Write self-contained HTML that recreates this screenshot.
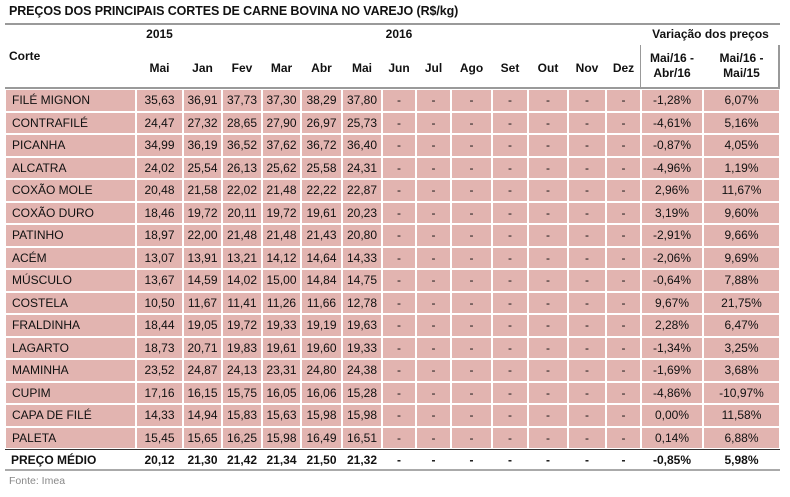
<!DOCTYPE html>
<html><head><meta charset="utf-8"><style>
body{margin:0;width:790px;height:497px;background:#fff;font-family:"Liberation Sans",Arial,sans-serif;position:relative;overflow:hidden;color:#111}
.t{position:absolute;left:9px;top:4px;font-size:12.5px;font-weight:bold;letter-spacing:-0.1px}
.hl{position:absolute;left:5px;width:775px;background:#9a9a9a}
.h{position:absolute;font-size:12px;font-weight:bold;text-align:center}
table{position:absolute;left:5px;top:89px;border-collapse:separate;border-spacing:0;table-layout:fixed;width:775px;font-size:12px}
td{height:22.5px;padding:0;box-sizing:border-box;background:#e2b4b0;border:1px solid #fff;text-align:center;white-space:nowrap}
td:first-child{text-align:left;padding-left:6px}
tr.m td{background:#fff;font-weight:bold;border:none;border-top:1.5px solid #333;border-bottom:2px solid #aaa;height:22px}
.f{position:absolute;left:9px;top:475px;font-size:10.5px;color:#888}
</style></head><body>
<div class="t">PREÇOS DOS PRINCIPAIS CORTES DE CARNE BOVINA NO VAREJO (R$/kg)</div>
<div class="hl" style="top:23px;height:2px"></div>
<div class="h" style="left:136px;width:47px;top:27px">2015</div>
<div class="h" style="left:382px;width:34px;top:27px">2016</div>
<div class="h" style="left:641px;width:139px;top:27px">Variação dos preços</div>
<div class="h" style="left:9px;top:49px">Corte</div>
<div style="position:absolute;left:640px;top:45px;width:1px;height:43px;background:#999"></div>
<div style="position:absolute;left:778px;top:45px;width:2px;height:43px;background:#999"></div>
<div class="h" style="left:136px;width:47px;top:61px">Mai</div>
<div class="h" style="left:183px;width:39px;top:61px">Jan</div>
<div class="h" style="left:222px;width:40px;top:61px">Fev</div>
<div class="h" style="left:262px;width:39px;top:61px">Mar</div>
<div class="h" style="left:301px;width:41px;top:61px">Abr</div>
<div class="h" style="left:342px;width:40px;top:61px">Mai</div>
<div class="h" style="left:382px;width:34px;top:61px">Jun</div>
<div class="h" style="left:416px;width:35px;top:61px">Jul</div>
<div class="h" style="left:451px;width:41px;top:61px">Ago</div>
<div class="h" style="left:492px;width:36px;top:61px">Set</div>
<div class="h" style="left:528px;width:40px;top:61px">Out</div>
<div class="h" style="left:568px;width:38px;top:61px">Nov</div>
<div class="h" style="left:606px;width:35px;top:61px">Dez</div>
<div class="h" style="left:641px;width:62px;top:51px;line-height:15px">Mai/16 -<br>Abr/16</div>
<div class="h" style="left:703px;width:77px;top:51px;line-height:15px">Mai/16 -<br>Mai/15</div>
<div class="hl" style="top:87px;height:2px"></div>
<table>
<colgroup><col style="width:131px"><col style="width:47px"><col style="width:39px"><col style="width:40px"><col style="width:39px"><col style="width:41px"><col style="width:40px"><col style="width:34px"><col style="width:35px"><col style="width:41px"><col style="width:36px"><col style="width:40px"><col style="width:38px"><col style="width:35px"><col style="width:62px"><col style="width:77px"></colgroup>
<tr><td>FILÉ MIGNON</td><td>35,63</td><td>36,91</td><td>37,73</td><td>37,30</td><td>38,29</td><td>37,80</td><td>-</td><td>-</td><td>-</td><td>-</td><td>-</td><td>-</td><td>-</td><td>-1,28%</td><td>6,07%</td></tr>
<tr><td>CONTRAFILÉ</td><td>24,47</td><td>27,32</td><td>28,65</td><td>27,90</td><td>26,97</td><td>25,73</td><td>-</td><td>-</td><td>-</td><td>-</td><td>-</td><td>-</td><td>-</td><td>-4,61%</td><td>5,16%</td></tr>
<tr><td>PICANHA</td><td>34,99</td><td>36,19</td><td>36,52</td><td>37,62</td><td>36,72</td><td>36,40</td><td>-</td><td>-</td><td>-</td><td>-</td><td>-</td><td>-</td><td>-</td><td>-0,87%</td><td>4,05%</td></tr>
<tr><td>ALCATRA</td><td>24,02</td><td>25,54</td><td>26,13</td><td>25,62</td><td>25,58</td><td>24,31</td><td>-</td><td>-</td><td>-</td><td>-</td><td>-</td><td>-</td><td>-</td><td>-4,96%</td><td>1,19%</td></tr>
<tr><td>COXÃO MOLE</td><td>20,48</td><td>21,58</td><td>22,02</td><td>21,48</td><td>22,22</td><td>22,87</td><td>-</td><td>-</td><td>-</td><td>-</td><td>-</td><td>-</td><td>-</td><td>2,96%</td><td>11,67%</td></tr>
<tr><td>COXÃO DURO</td><td>18,46</td><td>19,72</td><td>20,11</td><td>19,72</td><td>19,61</td><td>20,23</td><td>-</td><td>-</td><td>-</td><td>-</td><td>-</td><td>-</td><td>-</td><td>3,19%</td><td>9,60%</td></tr>
<tr><td>PATINHO</td><td>18,97</td><td>22,00</td><td>21,48</td><td>21,48</td><td>21,43</td><td>20,80</td><td>-</td><td>-</td><td>-</td><td>-</td><td>-</td><td>-</td><td>-</td><td>-2,91%</td><td>9,66%</td></tr>
<tr><td>ACÉM</td><td>13,07</td><td>13,91</td><td>13,21</td><td>14,12</td><td>14,64</td><td>14,33</td><td>-</td><td>-</td><td>-</td><td>-</td><td>-</td><td>-</td><td>-</td><td>-2,06%</td><td>9,69%</td></tr>
<tr><td>MÚSCULO</td><td>13,67</td><td>14,59</td><td>14,02</td><td>15,00</td><td>14,84</td><td>14,75</td><td>-</td><td>-</td><td>-</td><td>-</td><td>-</td><td>-</td><td>-</td><td>-0,64%</td><td>7,88%</td></tr>
<tr><td>COSTELA</td><td>10,50</td><td>11,67</td><td>11,41</td><td>11,26</td><td>11,66</td><td>12,78</td><td>-</td><td>-</td><td>-</td><td>-</td><td>-</td><td>-</td><td>-</td><td>9,67%</td><td>21,75%</td></tr>
<tr><td>FRALDINHA</td><td>18,44</td><td>19,05</td><td>19,72</td><td>19,33</td><td>19,19</td><td>19,63</td><td>-</td><td>-</td><td>-</td><td>-</td><td>-</td><td>-</td><td>-</td><td>2,28%</td><td>6,47%</td></tr>
<tr><td>LAGARTO</td><td>18,73</td><td>20,71</td><td>19,83</td><td>19,61</td><td>19,60</td><td>19,33</td><td>-</td><td>-</td><td>-</td><td>-</td><td>-</td><td>-</td><td>-</td><td>-1,34%</td><td>3,25%</td></tr>
<tr><td>MAMINHA</td><td>23,52</td><td>24,87</td><td>24,13</td><td>23,31</td><td>24,80</td><td>24,38</td><td>-</td><td>-</td><td>-</td><td>-</td><td>-</td><td>-</td><td>-</td><td>-1,69%</td><td>3,68%</td></tr>
<tr><td>CUPIM</td><td>17,16</td><td>16,15</td><td>15,75</td><td>16,05</td><td>16,06</td><td>15,28</td><td>-</td><td>-</td><td>-</td><td>-</td><td>-</td><td>-</td><td>-</td><td>-4,86%</td><td>-10,97%</td></tr>
<tr><td>CAPA DE FILÉ</td><td>14,33</td><td>14,94</td><td>15,83</td><td>15,63</td><td>15,98</td><td>15,98</td><td>-</td><td>-</td><td>-</td><td>-</td><td>-</td><td>-</td><td>-</td><td>0,00%</td><td>11,58%</td></tr>
<tr><td>PALETA</td><td>15,45</td><td>15,65</td><td>16,25</td><td>15,98</td><td>16,49</td><td>16,51</td><td>-</td><td>-</td><td>-</td><td>-</td><td>-</td><td>-</td><td>-</td><td>0,14%</td><td>6,88%</td></tr>
<tr class="m"><td>PREÇO MÉDIO</td><td>20,12</td><td>21,30</td><td>21,42</td><td>21,34</td><td>21,50</td><td>21,32</td><td>-</td><td>-</td><td>-</td><td>-</td><td>-</td><td>-</td><td>-</td><td>-0,85%</td><td>5,98%</td></tr>
</table>
<div class="f">Fonte: Imea</div>
</body></html>
